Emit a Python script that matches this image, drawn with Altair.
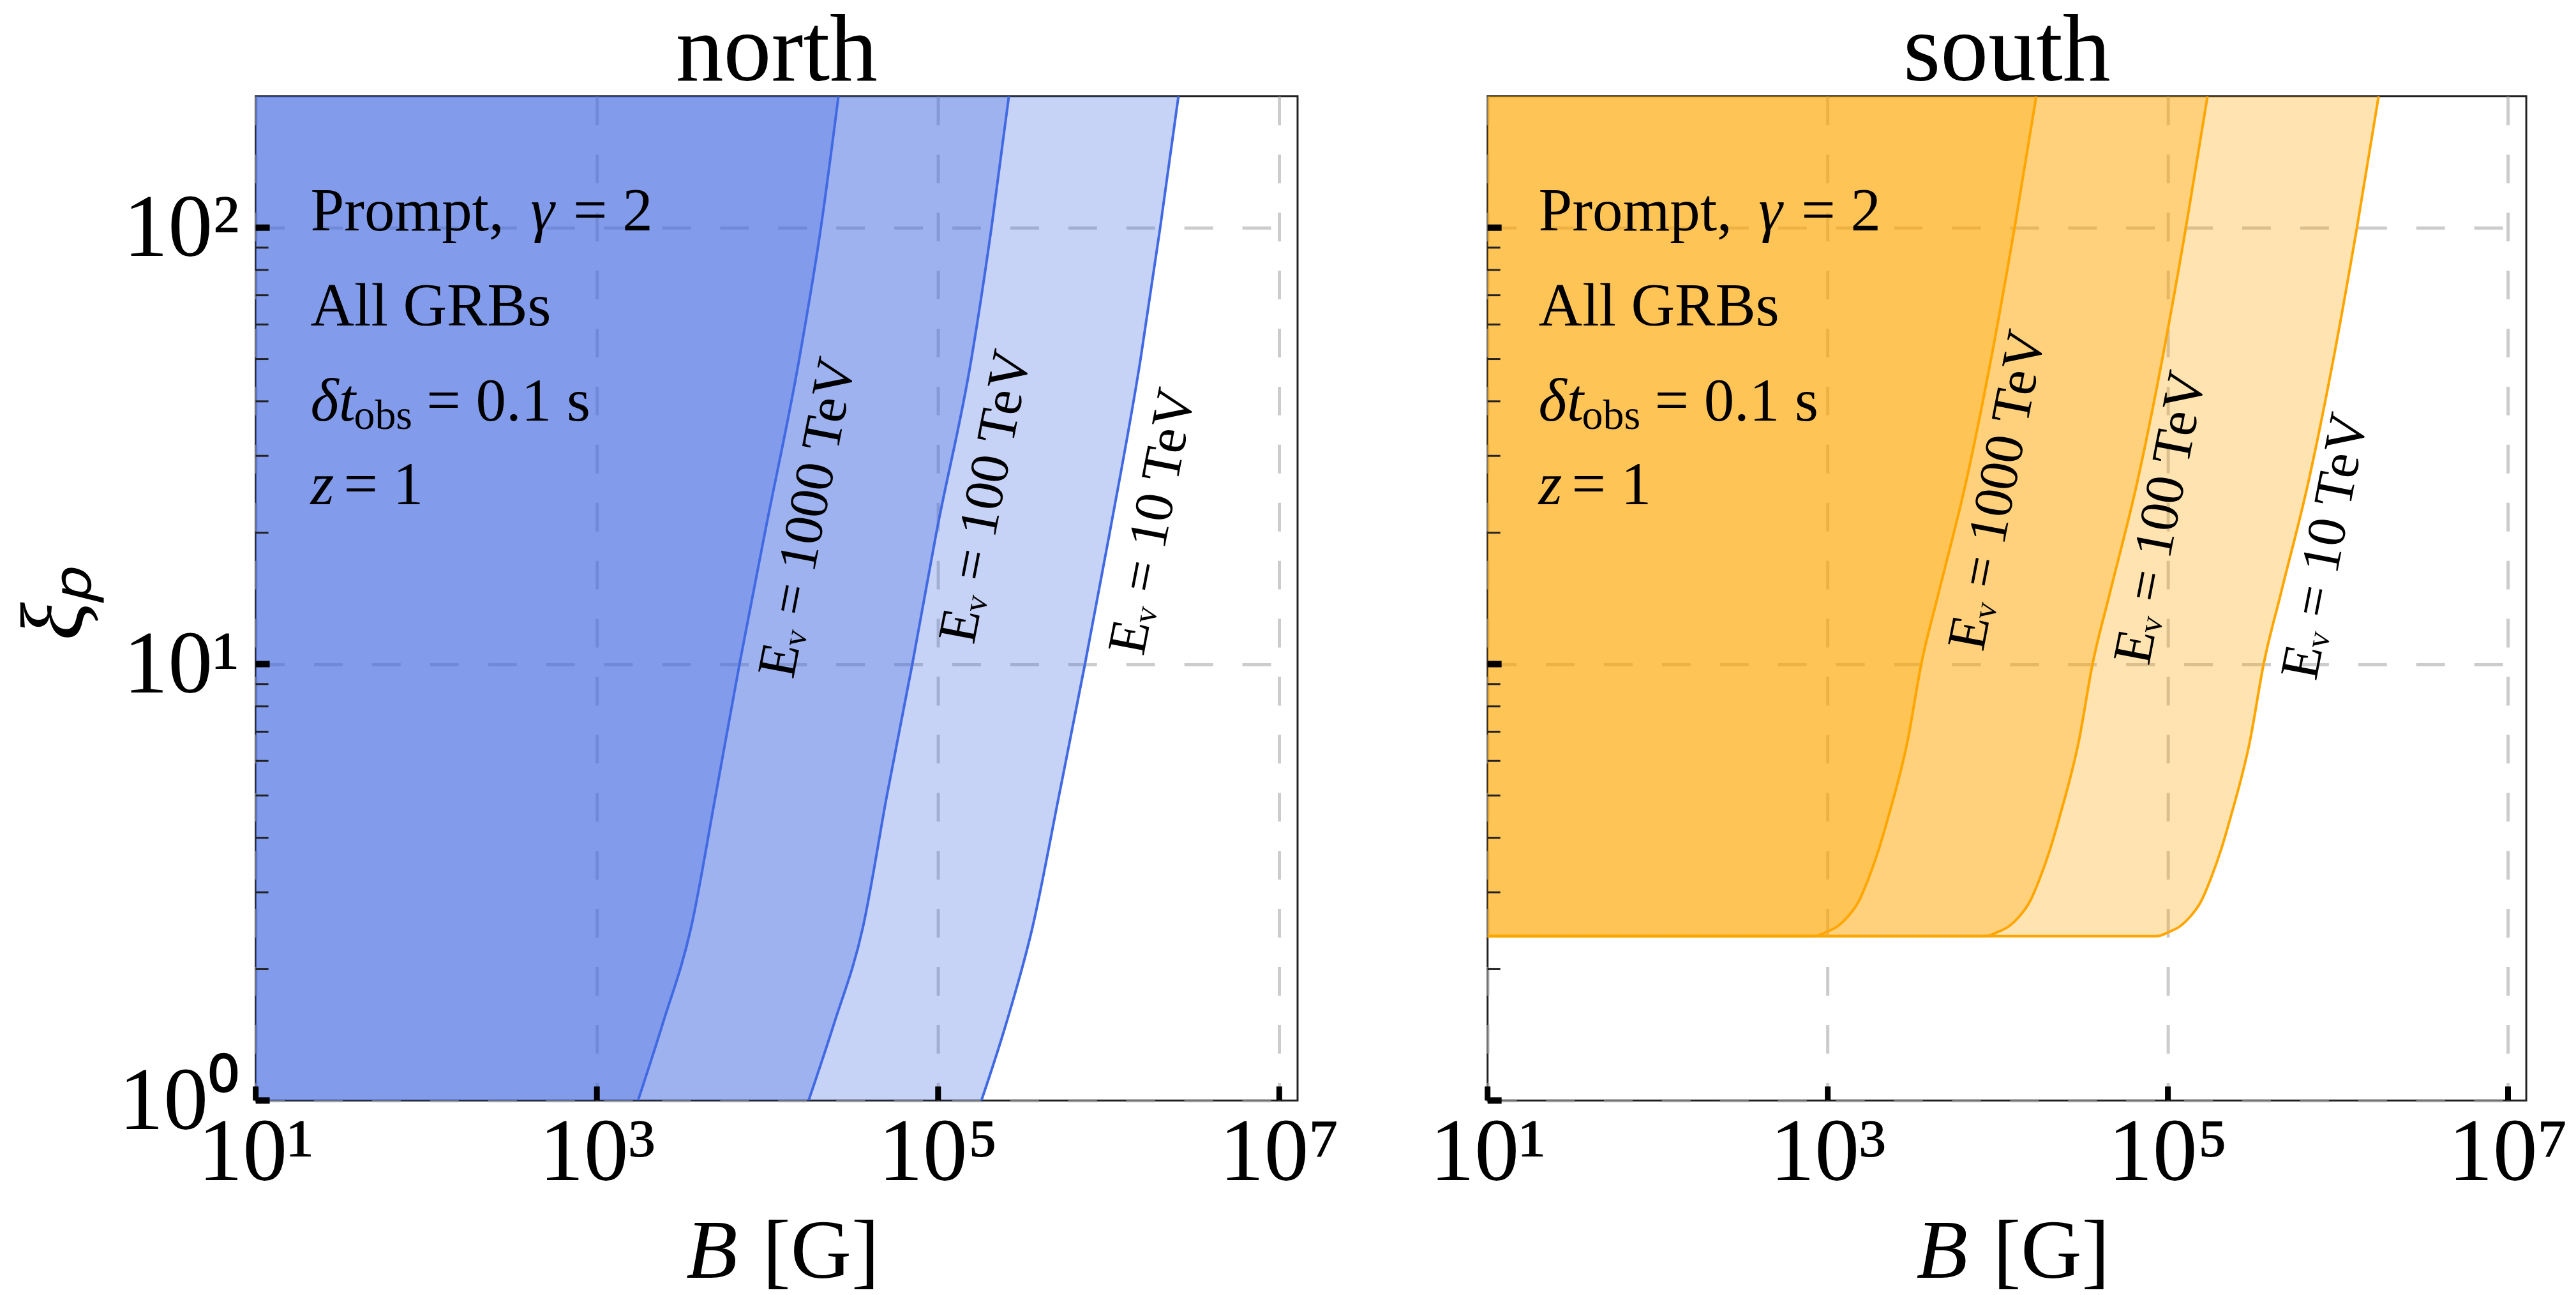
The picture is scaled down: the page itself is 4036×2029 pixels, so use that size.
import altair as alt
import pandas as pd

# ---------------- data ----------------
energies = ["1000", "100", "10"]          # E_nu in TeV

# north: xi_p levels and the B [G] of each curve at those levels
north_xi = [1, 1.5, 2.5, 5, 10, 20, 50, 100, 200]
north_B_1000 = [1742, 2432, 3573, 4966, 6855, 9661, 15350, 20560, 26060]
north_B_100 = [17420, 24550, 36310, 50120, 70630, 97720, 156700, 205600, 260000]
north_B_10 = [179500, 250600, 358100, 511700, 726100, 1014000, 1538000, 2004000, 2564000]

# south: xi_p levels (flat floor then rise) and B of each curve
south_xi = [2.38, 2.38, 2.44, 2.51, 2.64, 2.85, 3.22, 3.76, 4.49, 6.68, 10.0,
            14.45, 26.12, 51.88, 100.7, 200]
south_B_1000 = [10, 832, 1000, 1148, 1315, 1514, 1734, 1995, 2280, 2951, 3548,
                4467, 6501, 9290, 12590, 16830]
south_B_100 = [10, 8453, 10160, 11670, 13370, 15380, 17620, 20280, 23170, 29990,
               36060, 45390, 66070, 94410, 128000, 171000]
south_B_10 = [10, 85700, 103000, 118300, 135500, 156000, 178600, 205600, 235000,
              304100, 365600, 460300, 669900, 957200, 1297000, 1734000]

x_tick_values = [10, 1000, 100000, 10000000]
x_tick_labels = ["10¹", "10³", "10⁵", "10⁷"]
y_tick_values = [1, 10, 100]
y_tick_labels = ["10⁰", "10¹", "10²"]
y_minor_values = [2, 3, 4, 5, 6, 7, 8, 9, 20, 30, 40, 50, 60, 70, 80, 90]

panel_titles = ["north", "south"]
curve_labels = ["Eᵥ = 1000 TeV", "Eᵥ = 100 TeV", "Eᵥ = 10 TeV"]

# ---------------- styling / layout ----------------
FONT = "Liberation Serif"
PW_N, PW_S, PH = 1634, 1629, 1575
XDOM = [10, 1.28e7]
YDOM = [1, 200]


def label_expr(vals, labels):
    e = "''"
    for v, l in reversed(list(zip(vals, labels))):
        e = f"datum.value == {v} ? '{l}' : ({e})"
    return e


def x_enc(width):
    return alt.X(
        "B:Q",
        stack=None,
        scale=alt.Scale(type="log", domain=XDOM, nice=False),
        axis=alt.Axis(
            values=x_tick_values,
            labelExpr=label_expr(x_tick_values, x_tick_labels),
            title="",
            labelBaseline="alphabetic",
            labelPadding=124,
            labelAlign="center",
        ),
    )


def y_enc(left):
    if left:
        ax = alt.Axis(
            values=y_tick_values,
            labelExpr=label_expr(y_tick_values, y_tick_labels),
            title="ξₚ",
            labelPadding=26,
            labelBaseline="middle",
            labelOffset=2,
            titleAngle=270,
            titleX=-314,
            titleY=795,
            titleBaseline="middle",
            titleAlign="center",
            titleFontStyle="italic",
            titleFontSize=140,
        )
    else:
        ax = alt.Axis(values=y_tick_values, labels=False, title="")
    return alt.Y("xi:Q", stack=None,
                 scale=alt.Scale(type="log", domain=YDOM, nice=False), axis=ax)


def text_piece(s, x, y, size, style="normal", angle=0, align="left",
               baseline="alphabetic"):
    return alt.Chart(pd.DataFrame({"t": [s]})).mark_text(
        font=FONT, fontSize=size, fontStyle=style, angle=angle, align=align,
        baseline=baseline, color="black"
    ).encode(text="t:N", x=alt.value(x), y=alt.value(y))


def info_block(x0):
    return [
        text_piece("Prompt,", x0, 210, 95),
        text_piece("γ", x0 + 345, 210, 95, "italic"),
        text_piece("= 2", x0 + 412, 210, 95),
        text_piece("All GRBs", x0, 359, 95),
        text_piece("δt", x0, 509, 95, "italic"),
        text_piece("obs", x0 + 68, 522, 66),
        text_piece("= 0.1 s", x0 + 182, 509, 95),
        text_piece("z", x0, 640, 95, "italic"),
        text_piece("= 1", x0 + 52, 640, 95),
    ]


def x_title(width):
    c = width / 2
    return [
        text_piece("B", c - 142, PH + 278, 132, "italic"),
        text_piece("[G]", c - 22, PH + 278, 132),
    ]


def panel(title, xi_list, B_lists, color, width, left, orient, label_pos, info_x):
    xe = x_enc(width)
    ye = y_enc(left)
    layers = []
    for Bs in B_lists:
        df = pd.DataFrame({"B": Bs, "xi": xi_list})
        if orient == "horizontal":
            layers.append(
                alt.Chart(df).mark_area(orient="horizontal", color=color,
                                        opacity=0.3, clip=True,
                                        interpolate="monotone")
                .encode(x=xe, x2=alt.value(0), y=ye)
            )
        else:
            layers.append(
                alt.Chart(df).mark_area(orient="vertical", color=color,
                                        opacity=0.3, clip=True,
                                        interpolate="monotone")
                .encode(x=xe, y=ye, y2=alt.value(0))
            )
    for Bs in B_lists:
        df = pd.DataFrame({"B": Bs, "xi": xi_list})
        layers.append(
            alt.Chart(df).mark_line(color=color, strokeWidth=4, clip=True,
                                    interpolate="monotone")
            .encode(x=xe, y=ye)
        )
    # ticks (inward)
    layers.append(
        alt.Chart(pd.DataFrame({"B": x_tick_values})).mark_rule(
            color="black", strokeWidth=9
        ).encode(x=xe, y=alt.value(PH), y2=alt.value(PH - 22))
    )
    layers.append(
        alt.Chart(pd.DataFrame({"xi": y_tick_values})).mark_rule(
            color="black", strokeWidth=10
        ).encode(y=ye, x=alt.value(0), x2=alt.value(22))
    )
    layers.append(
        alt.Chart(pd.DataFrame({"xi": y_minor_values})).mark_rule(
            color="#222", strokeWidth=3
        ).encode(y=ye, x=alt.value(0), x2=alt.value(20))
    )
    # annotations
    layers += info_block(info_x)
    for lab, (px, py) in zip(curve_labels, label_pos):
        layers.append(text_piece(lab, px, py, 86, angle=281, align="center",
                                 baseline="middle"))
    layers += x_title(width)
    return alt.layer(*layers).properties(width=width, height=PH, title=title)


north = panel(
    panel_titles[0], north_xi, [north_B_1000, north_B_100, north_B_10],
    "royalblue", PW_N, True, "horizontal",
    [(866, 661), (1145, 628), (1407, 667)], 86,
)
south = panel(
    panel_titles[1], south_xi, [south_B_1000, south_B_100, south_B_10],
    "orange", PW_S, False, "vertical",
    [(800, 618), (1056, 661), (1314, 706)], 80,
)

chart = (
    alt.hconcat(north, south, spacing=298, bounds="flush")
    .properties(padding={"left": 15, "top": 3, "right": 10, "bottom": 3},
                background="white")
    .configure_view(stroke="#222", strokeWidth=3)
    .configure_axis(
        labelFont=FONT, titleFont=FONT, labelFontSize=140, titleFontSize=130,
        labelColor="black", titleColor="black", titleFontWeight="normal",
        domain=False, ticks=False, tickSize=0, labelFlush=False,
        labelLimit=2000, labelOverlap=False,
        grid=True, gridDash=[45, 46], gridColor="#aaaaaa", gridOpacity=0.6,
        gridWidth=5, zindex=1,
    )
    .configure_title(font=FONT, fontSize=150, fontWeight="normal",
                     baseline="alphabetic", offset=-6, anchor="middle",
                     color="black")
)

chart.save("out.html", embed_options={"renderer": "svg", "actions": False})
